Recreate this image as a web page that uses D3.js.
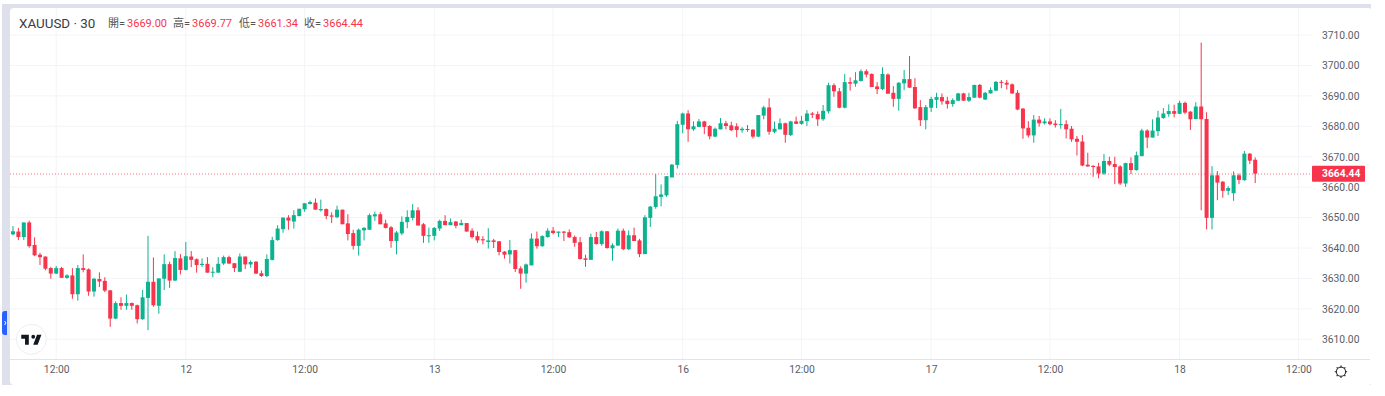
<!DOCTYPE html>
<html>
<head>
<meta charset="utf-8">
<style>
  body { margin: 0; background: #fff; }
  text { font-family: Roboto, "Noto Sans CJK TC", sans-serif; }
</style>
<script src="https://cdn.jsdelivr.net/npm/d3@7"></script>
</head>
<body>
<div class="canvas"></div>
<script>
const symbolName = 'XAUUSD · 30';
const ohlcLabels = ['開', '高', '低', '收'];
const lastOhlc = ['3669.00', '3669.77', '3661.34', '3664.44'];
const lastPrice = 3664.44;
const priceTicks = [3610, 3620, 3630, 3640, 3650, 3660, 3670, 3680, 3690, 3700, 3710];
const timeTickBars = [8, 32, 54, 78, 100, 124, 146, 170, 192, 216, 238];
const timeTickLabels = ['12:00', '12', '12:00', '13', '12:00', '16', '12:00', '17', '12:00', '18', '12:00'];

const opens = [
  3644.5,3645.4,3643.6,3648.4,3641,3637.8,3637.2,3633.4,3631.6,3633.4,
  3630.2,3631,3624.8,3633.4,3633,3625.7,3629.8,3629.2,3626.1,3616.8,
  3621.9,3621,3621.9,3621.2,3616.6,3623.6,3628.9,3621,3629.9,3634.7,
  3629.3,3636.6,3632.8,3637.2,3636.3,3634.4,3634.8,3631.9,3631.9,3634.9,
  3637,3635,3632.2,3637.2,3634.6,3635.5,3631.7,3630.8,3636.1,3642.6,
  3646.2,3650,3648.7,3650.5,3652.7,3654.5,3654.9,3652.4,3652.8,3650.7,
  3650.1,3652.6,3648.1,3644.9,3640.7,3645.8,3646,3650.4,3651.1,3648.1,
  3646.8,3642.3,3644.8,3648.5,3649.9,3652.4,3647.8,3643.9,3644,3646.4,
  3648.9,3647.5,3648.7,3647.5,3648.2,3645.7,3643.9,3642.9,3642,3642.5,
  3642.2,3638.8,3637.9,3639.3,3633.3,3631.6,3634.3,3643.1,3640.6,3643.6,
  3645.7,3645,3645.4,3645.2,3643.6,3641.9,3636.6,3636.1,3643.6,3641.3,
  3645.5,3639.9,3640.8,3645.7,3639.6,3644.2,3642.5,3638,3649.9,3653.5,
  3656.8,3657.3,3663.2,3667.3,3680.5,3684.2,3679,3679.8,3681.6,3680.1,
  3676.6,3679,3681,3680.3,3680,3678.7,3679.1,3678.9,3676.6,3683.5,
  3686.2,3678.2,3679,3681,3677.1,3681.6,3680.8,3681.7,3684.2,3684,
  3682.3,3684.9,3693.5,3691.5,3686.1,3694.5,3694,3694.9,3698.1,3697.2,
  3693.1,3692.2,3697,3691,3689,3694.1,3695.5,3692.9,3686.3,3682,
  3686.1,3688.7,3689.6,3688.4,3687.3,3688.4,3690.8,3688.4,3689.4,3693.6,
  3688.8,3690.8,3691.7,3694.6,3694.3,3693.8,3691,3685.8,3679.5,3677,
  3682.2,3681,3681.6,3680.9,3680.4,3680.7,3679.2,3675.9,3675,3667.4,
  3667,3666.8,3664.5,3668.6,3667.6,3666.8,3661.2,3667.9,3665.6,3670.2,
  3678.6,3676.3,3678.4,3682.7,3684,3685,3684.1,3687.7,3684.8,3682.4,
  3686.5,3682.4,3649.9,3663.9,3661.8,3658.8,3658,3663.9,3662.3,3671,
  3669
];
const highs = [
  3647.2,3646.6,3648.4,3649,3643.5,3638.4,3637.2,3633.8,3634.1,3633.8,
  3631.4,3633.4,3634.4,3637.9,3633.3,3630.2,3632,3630.4,3626.1,3622.5,
  3623.8,3624.7,3622.1,3621.4,3626.2,3644,3636.9,3630.1,3637.9,3635.5,
  3639,3638,3642,3639,3636.6,3636.6,3637,3633.7,3637,3637.5,
  3637.5,3635,3638.2,3637.2,3635.9,3635.7,3632.6,3637.9,3643.7,3647.5,
  3650,3650.8,3652.4,3652.9,3654.7,3655.6,3656.3,3655.9,3653,3651.7,
  3653.9,3652.6,3651.1,3646,3646.4,3646.9,3651.3,3652,3651.8,3649.3,
  3647.2,3645.6,3650.4,3652.4,3654.4,3653.4,3648.2,3646.7,3646.9,3649.3,
  3650.8,3649.7,3648.9,3649.3,3648.2,3646.5,3645.4,3643.9,3646.5,3643,
  3642.3,3639,3642.6,3639.3,3634,3634.9,3644.8,3645.4,3644.2,3646.5,
  3646.9,3645.4,3645.6,3646.1,3644.1,3643.6,3637.8,3644.7,3645.3,3645.8,
  3645.6,3641.5,3646.4,3646.4,3645.8,3646.7,3643,3650.8,3653.8,3664.3,
  3660.9,3663.6,3667.6,3681.8,3684.5,3685.3,3681.6,3682.4,3681.8,3680.4,
  3679.6,3682.7,3681.8,3681.5,3681,3679.7,3680.4,3679,3683.7,3686.7,
  3689.2,3681.6,3682.6,3681.2,3681.8,3683.2,3683.4,3685.3,3684.7,3684.9,
  3687,3694.3,3694.1,3692.6,3697.2,3696.1,3697.8,3698.7,3698.7,3697.4,
  3694.5,3699.4,3697.4,3693.2,3694.5,3698.5,3703.1,3695.8,3688.6,3687,
  3689.7,3691,3690.8,3689.7,3689.2,3691,3691,3691,3693.6,3693.9,
  3691.3,3692.8,3694.9,3695.2,3695.2,3694.1,3691.9,3686,3681.7,3683.7,
  3683.4,3682.6,3682.6,3682,3685.7,3682,3680.1,3676.8,3677.1,3671.3,
  3667.2,3668,3670.9,3670,3670,3667.2,3668,3669.8,3671.7,3679.2,
  3679,3682.3,3685.1,3686,3687.2,3687.1,3688.4,3688.1,3685,3687.9,
  3707.5,3684.6,3666.9,3665.3,3662,3660.3,3665.2,3664.5,3671.9,3671.2,
  3669.77
];
const lows = [
  3644.2,3642.6,3642.6,3640.1,3637.3,3634.4,3632.7,3629.9,3631.4,3630.2,
  3629.9,3623.3,3622.7,3632,3624.3,3624,3627.2,3625.5,3614.1,3616.6,
  3619.7,3619.7,3619.7,3615.2,3616.4,3613,3620.7,3618.4,3626.2,3626.9,
  3629.1,3631.3,3632.6,3633.7,3631.9,3633.8,3631.9,3630.4,3631.9,3634.4,
  3634.7,3632.1,3632.1,3633.1,3633.5,3631.4,3630.5,3630.4,3635.9,3642.4,
  3645,3646,3646.4,3650.4,3651.9,3654.3,3652.6,3652,3649.5,3648.2,
  3649.8,3647.8,3642.5,3639.5,3637.5,3642.5,3646,3648.9,3647.8,3646.4,
  3640.1,3637.9,3644.2,3646.5,3649.1,3647.4,3641.7,3641.7,3642.5,3645.6,
  3647.5,3647.5,3646.5,3647.4,3645.4,3643.1,3641.7,3641.2,3639.8,3640,
  3637.6,3636.5,3634.9,3632.1,3626.6,3628.6,3634.3,3639.8,3640.4,3643.4,
  3644.5,3643.6,3642.3,3643.4,3640.4,3636.2,3633.8,3636.1,3641.1,3640.7,
  3639.8,3635.8,3640.7,3639.3,3639.3,3642.3,3637,3638,3646.9,3652.9,
  3653.7,3656.8,3663.2,3666.1,3677.7,3674.9,3678.5,3679.8,3677.4,3675.7,
  3676.4,3679,3679,3678.4,3676.4,3677.9,3678.2,3676,3676.4,3682.3,
  3677.2,3677.7,3679,3674.6,3676.8,3680.7,3680.5,3680.1,3682.7,3680.1,
  3681.8,3684.2,3689.7,3685.9,3685.9,3691.7,3693,3694.7,3696.1,3692.9,
  3690.6,3691.9,3690.7,3686.4,3685.1,3691.9,3692.6,3685.7,3680.1,3679,
  3684.7,3686,3687.1,3685.8,3686.4,3688.4,3688.4,3688,3689.4,3689.2,
  3688.6,3690.8,3691.7,3692.5,3692.1,3690.6,3685.3,3675.9,3676.3,3674.6,
  3679.9,3680.6,3680.3,3679.6,3679.2,3676,3674.9,3670.4,3666.9,3666.7,
  3663.4,3662.9,3664,3666.9,3661,3660.7,3660.1,3664.3,3665.4,3670.2,
  3672.8,3676.3,3676.8,3682.5,3683.1,3682.9,3684,3684,3678.8,3682.3,
  3652.4,3646.1,3646.1,3655.7,3656.5,3657.4,3655.5,3661,3662.1,3667.6,
  3661.34
];
const closes = [
  3645.5,3643.6,3648.4,3640.6,3637.6,3637,3633.2,3631.6,3633.4,3630.2,
  3631,3624.8,3633.4,3632.8,3625.7,3629.9,3629,3626,3616.8,3621.9,
  3621,3621.9,3621,3616.6,3623.8,3628.9,3621.2,3630,3634.7,3629.3,
  3636.7,3632.8,3637.3,3636.1,3634.4,3634.8,3631.9,3632.2,3634.8,3637,
  3634.9,3633.4,3637.2,3634.6,3635.4,3631.6,3630.8,3636.4,3642.6,3646.4,
  3650,3649,3650.8,3652.9,3654.7,3655.1,3652.6,3652.8,3650.5,3650.3,
  3652.6,3647.8,3644.6,3640.7,3646,3646.6,3650.8,3651.1,3647.8,3646.6,
  3642.3,3645.1,3648.6,3650.2,3652.4,3647.4,3644,3644.2,3646.6,3648.9,
  3647.5,3648.5,3647.3,3648.2,3645.4,3643.6,3642.5,3642.5,3642.5,3642,
  3638.7,3637.8,3639.3,3633.1,3631.6,3634.6,3643.1,3640.6,3643.9,3645.7,
  3644.9,3645.4,3645,3643.5,3641.7,3636.4,3636.1,3643.6,3641.3,3645.5,
  3640,3640.9,3645.7,3639.6,3644.2,3642.3,3638,3650.1,3653.6,3657,
  3657.6,3663.6,3667.4,3680.7,3684.2,3679,3680,3681.6,3679.8,3676.7,
  3679.2,3681,3680.1,3678.7,3678.8,3679.2,3678.8,3676.6,3683.7,3686.2,
  3678.2,3679.2,3681,3677.2,3681.6,3680.8,3681.8,3684.2,3683.8,3682.3,
  3685.1,3693.5,3691.5,3686.1,3694.5,3694,3695.1,3698.1,3697,3692.9,
  3692.2,3697.2,3690.7,3689,3694.3,3695.5,3692.7,3685.9,3682,3686.3,
  3689,3689.6,3688.2,3687.3,3688.6,3690.8,3688.4,3689.6,3693.6,3689.4,
  3691,3691.9,3694.6,3694.3,3693.7,3690.8,3685.5,3679.3,3677,3682.2,
  3681,3681.6,3680.7,3680.4,3680.7,3679,3675.7,3674.9,3667.1,3666.8,
  3666.6,3664.5,3668.6,3667.4,3666.6,3661.2,3667.9,3665.6,3670.5,3678.6,
  3676.3,3678.6,3682.9,3684.2,3685,3684.1,3687.7,3684.5,3682.3,3686.5,
  3682.3,3649.9,3663.9,3661.5,3658.8,3659.7,3663.9,3662.4,3671,3668.7,
  3664.44
];

const upColor = '#0DB28F';
const downColor = '#F7344B';
const gridColor = '#F3F4F8';
const textColor = '#5A5D66';
const plotLeft = 10, plotRight = 1312, plotTop = 8, plotBottom = 359;

const svg = d3.select('.canvas').append('svg')
  .attr('width', 1385)
  .attr('height', 396)
  .style('display', 'block');

// page frame round the widget
svg.append('rect').attr('x', 2).attr('y', 4).attr('width', 1369).attr('height', 381).attr('fill', '#DEE1EC');
svg.append('rect').attr('x', 10).attr('y', 8).attr('width', 1362).attr('height', 377).attr('rx', 4).attr('fill', '#fff');

const xScale = d3.scaleLinear().domain([8, 238]).range([56.2, 1298.4]);
const yScale = d3.scaleLinear().domain([3610, 3710]).range([339.3, 35]);

const drawGrid = () => {
  const grid = svg.append('g').attr('stroke', gridColor).attr('stroke-width', 1);
  grid.selectAll('.hgrid').data(priceTicks).enter().append('line')
    .attr('class', 'hgrid')
    .attr('x1', plotLeft).attr('x2', plotRight)
    .attr('y1', d => yScale(d)).attr('y2', d => yScale(d));
  grid.selectAll('.vgrid').data(timeTickBars).enter().append('line')
    .attr('class', 'vgrid')
    .attr('y1', plotTop).attr('y2', plotBottom)
    .attr('x1', d => xScale(d)).attr('x2', d => xScale(d));
};

const drawPriceAxis = () => {
  const axis = d3.axisRight(yScale)
    .tickValues(priceTicks)
    .tickFormat(d3.format('.2f'))
    .tickSize(0)
    .tickPadding(0);
  const group = svg.append('g').attr('transform', 'translate(1322,0)').call(axis);
  group.select('.domain').remove();
  group.selectAll('text')
    .attr('font-size', 10.3)
    .attr('font-family', 'Roboto, sans-serif')
    .attr('fill', textColor);
};

const drawTimeAxis = () => {
  const axis = d3.axisBottom(xScale)
    .tickValues(timeTickBars)
    .tickFormat((d, i) => timeTickLabels[i])
    .tickSize(0)
    .tickPadding(7);
  const group = svg.append('g').attr('transform', `translate(0,${plotBottom})`).call(axis);
  group.select('.domain').remove();
  group.selectAll('text')
    .attr('font-size', 10.3)
    .attr('font-family', 'Roboto, sans-serif')
    .attr('fill', textColor);
  svg.append('line')
    .attr('x1', plotLeft).attr('x2', 1370)
    .attr('y1', plotBottom + 0.5).attr('y2', plotBottom + 0.5)
    .attr('stroke', '#E0E3EB');
};

const drawLastPrice = () => {
  // sits across two pixel rows so the dots come out pink
  const y = Math.round(yScale(lastPrice));
  svg.append('line')
    .attr('x1', plotLeft).attr('x2', plotRight)
    .attr('y1', y).attr('y2', y)
    .attr('stroke', downColor)
    .attr('stroke-opacity', 0.7)
    .attr('stroke-dasharray', '1 2');
};

const drawCandles = () => {
  const bars = d3.range(opens.length);
  const color = i => closes[i] >= opens[i] ? upColor : downColor;

  svg.append('g').selectAll('line').data(bars).enter().append('line')
    .attr('x1', i => xScale(i)).attr('x2', i => xScale(i))
    .attr('y1', i => yScale(highs[i])).attr('y2', i => yScale(lows[i]))
    .attr('stroke', color)
    .attr('stroke-width', 1);

  svg.append('g').selectAll('rect').data(bars).enter().append('rect')
    .attr('x', i => xScale(i) - 2)
    .attr('width', 4)
    .attr('y', i => yScale(Math.max(opens[i], closes[i])))
    .attr('height', i => Math.max(1, Math.abs(yScale(opens[i]) - yScale(closes[i]))))
    .attr('fill', color);
};

const drawLastPriceLabel = () => {
  const y = yScale(lastPrice);
  svg.append('rect')
    .attr('x', plotRight).attr('y', y - 8)
    .attr('width', 53).attr('height', 16)
    .attr('rx', 1)
    .attr('fill', downColor);
  svg.append('text')
    .attr('x', 1322).attr('y', y)
    .attr('dy', '0.35em')
    .attr('font-size', 10.3)
    .attr('font-weight', 700)
    .attr('fill', '#fff')
    .text(lastPrice.toFixed(2));
};

const drawLegend = () => {
  svg.append('text')
    .attr('x', 19).attr('y', 27.5)
    .attr('font-size', 13.4)
    .attr('fill', '#3a3d46')
    .text(symbolName);
  const startX = [108, 173, 239, 304];
  ohlcLabels.forEach((label, i) => {
    const t = svg.append('text').attr('x', startX[i]).attr('y', 27).attr('font-size', 11);
    t.append('tspan').attr('fill', '#555').text(label + '=');
    t.append('tspan').attr('dx', 2).attr('fill', downColor).text(lastOhlc[i]);
  });
};

const drawLogo = () => {
  svg.append('circle')
    .attr('cx', 31.3).attr('cy', 339.3).attr('r', 15)
    .attr('fill', '#fff')
    .attr('stroke', '#EDEEF2')
    .attr('stroke-width', 1);
  svg.append('path')
    .attr('transform', 'translate(20,330.8) scale(0.63,0.66)')
    .attr('fill', '#131722')
    .attr('d', 'M14 6H2v6h6v9h6V6zm14 15h-7l6-15h7l-6 15zm-7-9a3 3 0 1 0 0-6 3 3 0 0 0 0 6z');
};

const drawSideTab = () => {
  svg.append('path')
    .attr('d', 'M7 311h-2a3 3 0 0 0 -3 3v18a3 3 0 0 0 3 3h2z')
    .attr('fill', '#2962FF');
  svg.append('path')
    .attr('d', 'M4.5 321l1.5 2-1.5 2')
    .attr('fill', 'none')
    .attr('stroke', '#fff')
    .attr('stroke-width', 1);
};

const drawSettingsIcon = () => {
  const g = svg.append('g').attr('transform', 'translate(1341,371.7)')
    .attr('stroke', '#2f323a').attr('fill', 'none');
  g.append('circle').attr('r', 4.6).attr('stroke-width', 1.1);
  g.selectAll('line').data(d3.range(8)).enter().append('line')
    .attr('x1', 0).attr('x2', 0).attr('y1', -4.6).attr('y2', -6.2)
    .attr('stroke-width', 1.2)
    .attr('transform', d => `rotate(${d * 45})`);
};

drawGrid();
drawPriceAxis();
drawTimeAxis();
drawLastPrice();
drawCandles();
drawLastPriceLabel();
drawLegend();
drawLogo();
drawSideTab();
drawSettingsIcon();
</script>
</body>
</html>
